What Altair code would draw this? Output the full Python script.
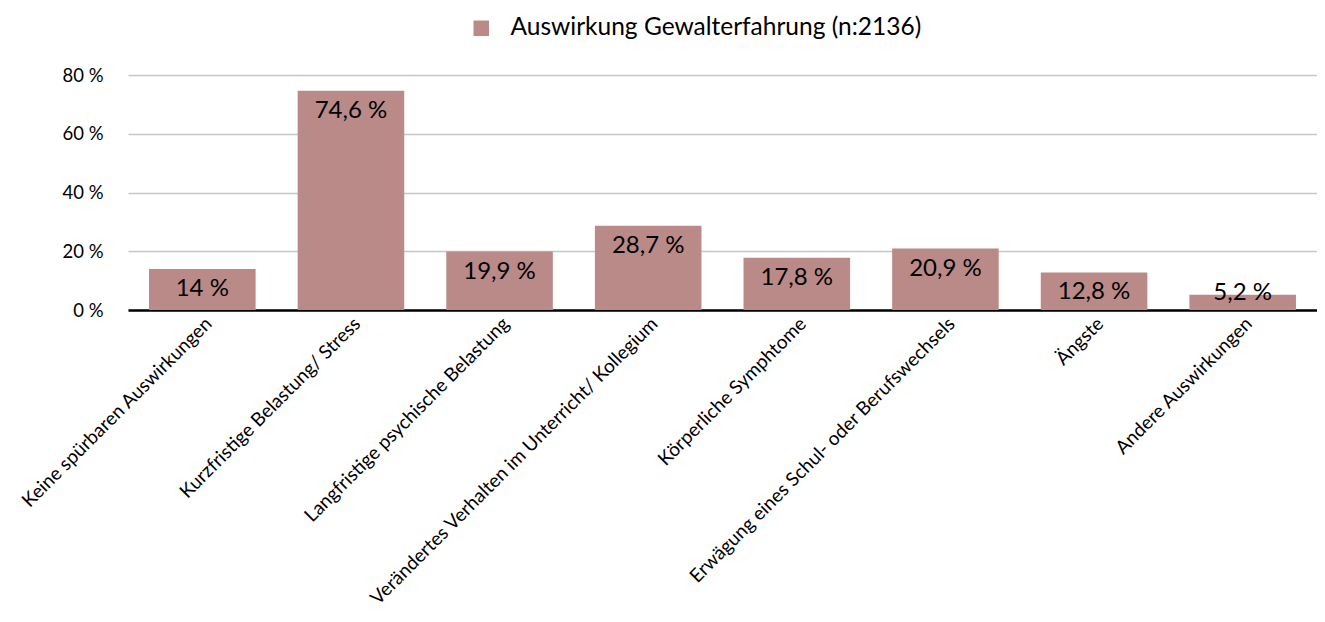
import altair as alt
import pandas as pd

categories = [
    "Keine spürbaren Auswirkungen",
    "Kurzfristige Belastung/ Stress",
    "Langfristige psychische Belastung",
    "Verändertes Verhalten im Unterricht/ Kollegium",
    "Körperliche Symphtome",
    "Erwägung eines Schul- oder Berufswechsels",
    "Ängste",
    "Andere Auswirkungen",
]
values = [14.0, 74.6, 19.9, 28.7, 17.8, 20.9, 12.8, 5.2]
labels = ["14 %", "74,6 %", "19,9 %", "28,7 %", "17,8 %", "20,9 %", "12,8 %", "5,2 %"]
series_name = "Auswirkung Gewalterfahrung (n:2136)"
y_ticks = [0, 20, 40, 60, 80]

df = pd.DataFrame({"cat": categories, "value": values, "label": labels, "series": series_name})

FONT = "Lato"
BAR = "#B98A88"

x = alt.X("cat:N", sort=categories, title=None,
          scale=alt.Scale(paddingInner=0.283, paddingOuter=0.1415),
          axis=alt.Axis(labelAngle=-45, labelAlign="right", labelBaseline="top",
                        labelFontSize=19, labelColor="#000000", labelFont=FONT,
                        ticks=False, labelPadding=4, domainColor="#000000",
                        domainWidth=2.5, grid=False, labelLimit=500))

bars = alt.Chart(df).mark_bar(color=BAR).encode(
    x=x,
    y=alt.Y("value:Q", title=None,
            scale=alt.Scale(domain=[0, 80], nice=False),
            axis=alt.Axis(values=y_ticks, labelExpr="datum.value + ' %'",
                          labelFontSize=18.5, labelColor="#000000", labelFont=FONT,
                          ticks=False, domain=False, labelPadding=25,
                          gridColor="#C6C6C6", gridWidth=1.5)),
    color=alt.Color("series:N", scale=alt.Scale(range=[BAR]),
                    legend=alt.Legend(title=None, orient="none", legendX=341, legendY=-59,
                                      symbolType="square", symbolSize=240,
                                      symbolStrokeWidth=0, labelFontSize=24.5,
                                      labelFont=FONT, labelColor="#000000",
                                      labelLimit=800, symbolOffset=0, labelOffset=17)),
)

text = alt.Chart(df).transform_calculate(
    ly="max(datum.value, 12.6)"
).mark_text(baseline="top", dy=8, fontSize=24, font=FONT, color="#000000").encode(
    x=alt.X("cat:N", sort=categories),
    y=alt.Y("ly:Q"),
    text="label:N",
)

chart = alt.layer(bars, text).properties(
    width=1189, height=235,
    autosize=alt.AutoSizeParams(type="none"),
    padding={"left": 120, "top": 67, "right": 0, "bottom": 304},
).configure_view(stroke=None).configure_axis(domain=True)

chart.save("out.html", embed_options={"renderer": "svg", "actions": False})
